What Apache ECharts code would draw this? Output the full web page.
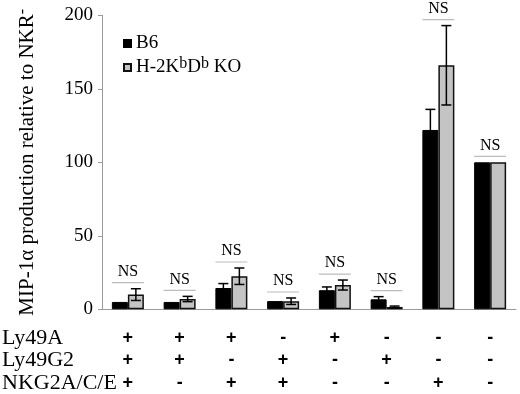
<!DOCTYPE html>
<html>
<head>
<meta charset="utf-8">
<script src="https://cdn.jsdelivr.net/npm/echarts@6/dist/echarts.min.js"></script>
<style>
  html, body { margin: 0; padding: 0; background: #fff; }
  #chart { width: 520px; height: 394px; }
</style>
</head>
<body>
<div id="chart"></div>
<script>
// receptor combos per group (+ / -)
const groups = ['g1', 'g2', 'g3', 'g4', 'g5', 'g6', 'g7', 'g8'];
const ly49a = ['+', '+', '+', '-', '+', '-', '-', '-'];
const ly49g2 = ['+', '+', '-', '+', '-', '+', '-', '-'];
const nkg2 = ['+', '-', '+', '+', '-', '-', '+', '-'];
const rowNames = ['Ly49A', 'Ly49G2', 'NKG2A/C/E'];

// MIP-1a production relative to NKR-
const b6 = [5, 5, 14.5, 5.6, 13, 6.8, 122, 100];
const b6Err = [0, 0, 3, 0, 2.2, 1.8, 14, 0];
const ko = [10, 7, 22.5, 5.5, 16.5, 1.6, 166, 100];
const koErr = [4, 1.8, 5.6, 2.2, 3.4, 0.6, 27, 0];
const sigLabels = ['NS', 'NS', 'NS', 'NS', 'NS', 'NS', 'NS', 'NS'];

const serif = '"Liberation Serif", "Times New Roman", serif';
const chart = echarts.init(document.getElementById('chart'));

const BAR_W = 16;

function errorBars(offset) {
  return function (params, api) {
    const i = api.value(0), m = api.value(1), e = api.value(2);
    if (!e) return null;
    const top = api.coord([i, m + e]);
    const bot = api.coord([i, m - e]);
    const x = top[0] + offset;
    const style = { stroke: '#000', lineWidth: 1.5 };
    return {
      type: 'group',
      children: [
        { type: 'line', shape: { x1: x, y1: top[1], x2: x, y2: bot[1] }, style },
        { type: 'line', shape: { x1: x - 5, y1: top[1], x2: x + 5, y2: top[1] }, style },
        { type: 'line', shape: { x1: x - 5, y1: bot[1], x2: x + 5, y2: bot[1] }, style }
      ]
    };
  };
}

const sigData = groups.map((g, i) => [i, Math.max(b6[i] + b6Err[i], ko[i] + koErr[i])]);

const option = {
  animation: false,
  grid: { left: 102, right: 4, top: 15.3, bottom: 84.7, outerBoundsMode: 'none' },
  legend: {
    data: ['B6', 'H-2KbDb KO'],
    orient: 'vertical',
    left: 118,
    top: 29,
    itemWidth: 7,
    itemHeight: 7,
    itemGap: 3,
    icon: 'rect',
    formatter: function (name) {
      if (name === 'B6') return '{n|B6}';
      return '{n|H-2K}{s|b}{n|D}{s|b}{n| KO}';
    },
    textStyle: {
      fontFamily: serif,
      color: '#000',
      rich: {
        n: { fontSize: 19, fontFamily: serif, color: '#000', lineHeight: 21 },
        s: { fontSize: 16, fontFamily: serif, color: '#000', lineHeight: 21, padding: [0, 0, 7, 0] }
      }
    }
  },
  xAxis: {
    type: 'category',
    data: groups,
    axisLine: { lineStyle: { color: '#9a9a9a', width: 1 } },
    axisTick: { show: false },
    axisLabel: {
      margin: 17,
      fontFamily: '"Liberation Sans", Arial, sans-serif',
      fontWeight: 'bold',
      fontSize: 18,
      lineHeight: 22.5,
      color: '#000',
      formatter: function (v, i) {
        return ly49a[i] + '\n' + ly49g2[i] + '\n' + nkg2[i];
      }
    }
  },
  yAxis: {
    type: 'value',
    min: 0,
    max: 200,
    interval: 50,
    name: '{a|MIP-1α production relative to NKR}{s|-}',
    nameLocation: 'middle',
    nameGap: 62,
    nameTextStyle: {
      rich: {
        a: { fontSize: 21, fontFamily: serif, color: '#000' },
        s: { fontSize: 16, fontFamily: serif, color: '#000', padding: [0, 0, 9, 0] }
      }
    },
    axisLine: { show: true, lineStyle: { color: '#9a9a9a', width: 1 } },
    axisTick: { show: true, length: 4, lineStyle: { color: '#9a9a9a' } },
    splitLine: { show: false },
    axisLabel: { margin: 9, fontSize: 19, fontFamily: serif, color: '#000' }
  },
  graphic: rowNames.map((t, k) => ({
    type: 'text',
    x: 2,
    y: 338 + k * 22.5,
    style: { text: t, fontSize: 22, fontFamily: serif, fill: '#000', verticalAlign: 'middle' }
  })),
  series: [
    {
      name: 'B6',
      type: 'bar',
      data: b6,
      barWidth: BAR_W,
      barGap: 0,
      itemStyle: { color: '#000', borderColor: '#000', borderWidth: 1 }
    },
    {
      name: 'H-2KbDb KO',
      type: 'bar',
      data: ko,
      barWidth: BAR_W,
      barGap: 0,
      itemStyle: { color: '#c4c4c4', borderColor: '#111', borderWidth: 1.5 }
    },
    {
      name: 'b6err',
      type: 'custom',
      z: 5,
      renderItem: errorBars(-BAR_W / 2),
      encode: { x: 0, y: 1 },
      data: b6.map((v, i) => [i, v, b6Err[i]])
    },
    {
      name: 'koerr',
      type: 'custom',
      z: 5,
      renderItem: errorBars(BAR_W / 2),
      encode: { x: 0, y: 1 },
      data: ko.map((v, i) => [i, v, koErr[i]])
    },
    {
      name: 'sig',
      type: 'custom',
      z: 5,
      renderItem: function (params, api) {
        const p = api.coord([api.value(0), api.value(1)]);
        const y = p[1] - 6;
        return {
          type: 'group',
          children: [
            { type: 'line', shape: { x1: p[0] - 16, y1: y, x2: p[0] + 16, y2: y }, style: { stroke: '#bdbdbd', lineWidth: 1.2 } },
            { type: 'text', x: p[0], y: y - 11, style: { text: sigLabels[params.dataIndex], fontSize: 16, fontFamily: serif, fill: '#000', align: 'center', verticalAlign: 'middle' } }
          ]
        };
      },
      encode: { x: 0, y: 1 },
      data: sigData
    }
  ]
};

chart.setOption(option);
</script>
</body>
</html>
